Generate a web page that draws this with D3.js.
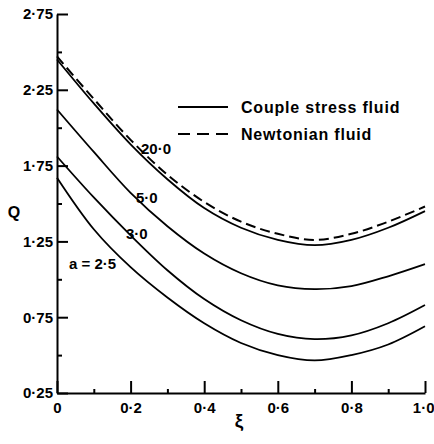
<!DOCTYPE html>
<html>
<head>
<meta charset="utf-8">
<script src="https://cdn.jsdelivr.net/npm/d3@7"></script>
<style>
  body { margin: 0; background: #fff; }
  text { font-family: "Liberation Sans", Arial, sans-serif; font-weight: bold; fill: #000; }
</style>
</head>
<body>
<svg width="434" height="444"></svg>
<script>
const xi = [0, 0.1, 0.2, 0.3, 0.4, 0.5, 0.6, 0.7, 0.8, 0.9, 1.0];

// couple stress fluid, one per value of a
const qA25 = [1.67, 1.33, 1.08, 0.88, 0.71, 0.58, 0.50, 0.465, 0.50, 0.57, 0.69];
const qA30 = [1.81, 1.54, 1.29, 1.06, 0.87, 0.73, 0.64, 0.605, 0.63, 0.71, 0.83];
const qA50 = [2.12, 1.84, 1.57, 1.35, 1.17, 1.04, 0.96, 0.935, 0.955, 1.02, 1.10];
const qA200 = [2.45, 2.16, 1.89, 1.66, 1.47, 1.34, 1.26, 1.225, 1.26, 1.34, 1.45];
// newtonian fluid
const qNewton = [2.47, 2.19, 1.92, 1.69, 1.51, 1.38, 1.30, 1.26, 1.30, 1.38, 1.48];

const yMajor = [0.25, 0.75, 1.25, 1.75, 2.25, 2.75];
const yMinor = [0.5, 1.0, 1.5, 2.0, 2.5];
const xMajor = [0, 0.2, 0.4, 0.6, 0.8, 1.0];
const xMinor = [0.1, 0.3, 0.5, 0.7, 0.9];

const svg = d3.select("svg");

const x = d3.scaleLinear().domain([0, 1]).range([57, 425]);
const y = d3.scaleLinear().domain([0.25, 2.75]).range([393, 14]);

const fmtX = d => d === 0 ? "0" : d.toFixed(1).replace(".", "·");
const fmtY = d => d.toFixed(2).replace(".", "·");

// y axis
svg.append("g").attr("transform", "translate(57,0)")
  .call(d3.axisLeft(y).tickValues(yMajor).tickSize(-11).tickSizeOuter(0).tickPadding(4).tickFormat(fmtY));
svg.append("g").attr("transform", "translate(57,0)")
  .call(d3.axisLeft(y).tickValues(yMinor).tickSize(-5).tickSizeOuter(0).tickFormat(""))
  .select(".domain").remove();

// x axis
const xAxis = svg.append("g").attr("transform", "translate(0,393)");
xAxis.call(d3.axisBottom(x).tickValues(xMajor).tickSize(-12).tickSizeOuter(0).tickPadding(9).tickFormat(fmtX));
svg.append("g").attr("transform", "translate(0,393)")
  .call(d3.axisBottom(x).tickValues(xMinor).tickSize(-4).tickSizeOuter(0).tickFormat(""))
  .select(".domain").remove();

svg.selectAll(".domain").attr("stroke", "#000").attr("stroke-width", 2);
svg.selectAll(".tick line").attr("stroke", "#000").attr("stroke-width", 2);
svg.selectAll(".tick text")
  .style("font-family", "'Liberation Sans', Arial, sans-serif")
  .style("font-weight", "bold")
  .style("font-size", "15px")
  .attr("fill", "#000");

// last x label sits tight against the right edge
xAxis.selectAll(".tick text").filter(d => d === 1).attr("text-anchor", "end").attr("x", 9);

// axis titles
svg.append("text").attr("x", 14).attr("y", 218).attr("text-anchor", "middle")
  .style("font-size", "16px").text("Q");
svg.append("text").attr("x", 239).attr("y", 427).attr("text-anchor", "middle")
  .style("font-size", "19px").text("ξ");

// curves
const line = d3.line()
  .x((d, i) => x(xi[i]))
  .y(d => y(d))
  .curve(d3.curveCatmullRom);

[qA25, qA30, qA50, qA200].forEach(q => {
  svg.append("path")
    .attr("d", line(q))
    .attr("fill", "none")
    .attr("stroke", "#000")
    .attr("stroke-width", 1.8);
});

svg.append("path")
  .attr("d", line(qNewton))
  .attr("fill", "none")
  .attr("stroke", "#000")
  .attr("stroke-width", 2)
  .attr("stroke-dasharray", "10,5");

// curve labels
svg.append("text").attr("x", 141).attr("y", 154).style("font-size", "15px").text("20·0");
svg.append("text").attr("x", 136).attr("y", 203).style("font-size", "15px").text("5·0");
svg.append("text").attr("x", 126).attr("y", 239).style("font-size", "15px").text("3·0");
svg.append("text").attr("x", 69).attr("y", 269).style("font-size", "15px").text("a = 2·5");

// legend
svg.append("line").attr("x1", 178).attr("x2", 228).attr("y1", 107).attr("y2", 107)
  .attr("stroke", "#000").attr("stroke-width", 1.8);
svg.append("line").attr("x1", 178).attr("x2", 228).attr("y1", 134).attr("y2", 134)
  .attr("stroke", "#000").attr("stroke-width", 1.8).attr("stroke-dasharray", "12,7");
svg.append("text").attr("x", 241).attr("y", 113).style("font-size", "16px")
  .style("letter-spacing", "0.8px").text("Couple stress fluid");
svg.append("text").attr("x", 241).attr("y", 140).style("font-size", "16px")
  .style("letter-spacing", "0.8px").text("Newtonian fluid");
</script>
</body>
</html>
